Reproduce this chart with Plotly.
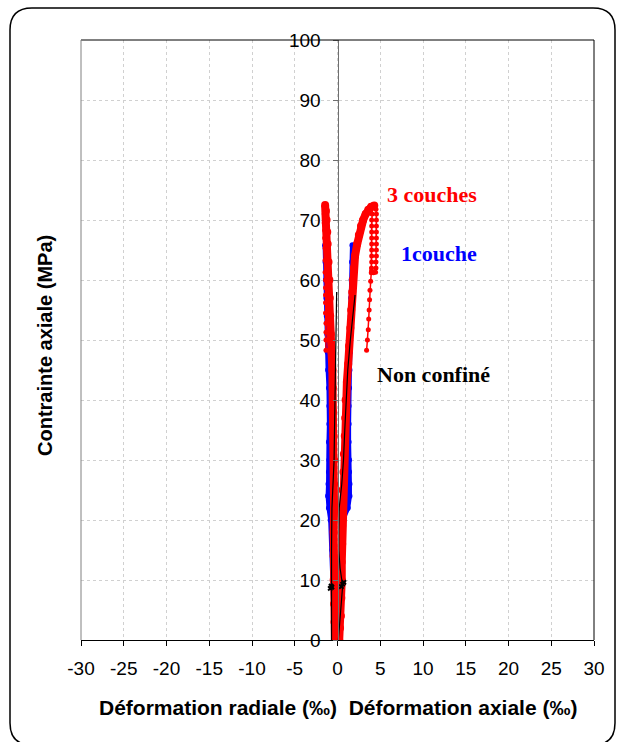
import plotly.graph_objects as go

# ---------------- data ----------------
x_tick_vals = [-30, -25, -20, -15, -10, -5, 0, 5, 10, 15, 20, 25, 30]
x_tick_labels = ["-30", "-25", "-20", "-15", "-10", "-5", "0", "5", "10", "15", "20", "25", "30"]
y_tick_vals = [0, 10, 20, 30, 40, 50, 60, 70, 80, 90, 100]

# 3 couches - axial branch (pre-peak)
red_ax_eps = [0.2, 0.3, 0.4, 0.45, 0.5, 0.5, 0.55, 0.55, 0.6, 0.6, 0.7, 0.75, 0.85, 0.9, 0.95,
              1.1, 1.25, 1.35, 1.5, 1.6, 1.72, 1.8, 1.92, 2.05, 2.3, 2.5, 2.75, 3.0, 3.3, 3.6, 3.95, 4.3]
red_ax_sig = [0, 2, 4, 7, 10, 13, 16, 19, 22, 25, 28, 31, 34, 37, 40,
              43, 46, 49, 52, 55, 58, 60, 62, 64, 66, 67.5, 69, 70, 71, 71.7, 72.2, 72.4]
# 3 couches - axial post-peak (two unloading paths)
red_axA_eps = [4.3, 4.1, 4.05, 4.0, 4.0, 4.0, 4.0, 4.0, 4.0, 4.0, 4.0, 3.98, 3.95, 3.88, 3.8,
               3.75, 3.7, 3.65, 3.6, 3.5, 3.4]
red_axA_sig = [72.4, 72.0, 71.0, 70.0, 69.0, 68.0, 67.0, 66.0, 65.0, 64.0, 63.0, 62.0, 61.2, 59.8, 58.3,
               56.7, 55.0, 53.5, 51.7, 50.0, 48.3]
red_axB_eps = [4.35, 4.5, 4.55, 4.55, 4.55, 4.55, 4.55, 4.55, 4.55, 4.55, 4.5, 4.5, 4.45, 4.2, 3.98]
red_axB_sig = [72.4, 71.8, 71.0, 70.0, 69.0, 68.0, 67.0, 66.0, 65.0, 64.0, 63.0, 62.0, 61.3, 61.2, 61.5]
# 3 couches - radial branch
red_rad_eps = [-0.3, -0.35, -0.4, -0.45, -0.45, -0.45, -0.4, -0.4, -0.4, -0.45, -0.5, -0.55, -0.6,
               -0.7, -0.78, -0.85, -0.9, -0.95, -1.05, -1.15, -1.2, -1.28, -1.35, -1.45]
red_rad_sig = [0, 3, 6, 10, 14, 18, 22, 26, 30, 34, 38, 42, 45,
               48, 51, 54, 57, 60, 63, 66, 68, 70, 71.5, 72.5]
red_radP_eps = [-1.5, -1.55, -1.55, -1.5, -1.5, -1.45, -1.45, -1.45, -1.4, -1.4, -1.4, -1.4,
                -1.4, -1.35, -1.35, -1.35, -1.35]
red_radP_sig = [72.5, 71.0, 69.5, 68.3, 67.0, 65.3, 63.3, 61.3, 60.0, 58.7, 57.5, 56.2,
                54.5, 52.8, 51.3, 50.0, 48.3]

# 1 couche
blue_ax_eps = [0.2, 0.3, 0.35, 0.4, 0.6, 1.2, 1.4, 1.4, 1.35, 1.35, 1.3, 1.3, 1.3, 1.35, 1.4,
               1.45, 1.5, 1.55, 1.6, 1.65, 1.7, 1.75]
blue_ax_sig = [0, 5, 10, 15, 20, 22, 24, 26, 28, 30, 33, 36, 39, 42, 45,
               48, 51, 54, 57, 60, 63, 65.8]
blue_rad_eps = [-0.3, -0.4, -0.5, -0.6, -0.8, -1.0, -1.1, -1.05, -1.0, -0.95, -1.0, -0.95, -0.95,
                -1.0, -1.1, -1.15, -1.2, -1.25, -1.3, -1.35, -1.4, -1.45]
blue_rad_sig = [0, 5, 10, 15, 20, 22, 24, 26, 28, 30, 33, 36, 39,
                42, 45, 48, 51, 54, 57, 60, 63, 65.8]

# Non confiné
black_rad_eps = [-0.7, -0.75, -0.7, -0.65, -0.5, -0.4, -0.35, -0.3, -0.2, -0.15, -0.1, -0.1]
black_rad_sig = [0, 9, 15, 22, 26, 30, 35, 40, 45, 50, 55, 58]
black_ax_eps = [0.1, 0.6, 0.3, 0.15, 0.15, 0.2, 0.5, 0.7, 0.85, 1.0, 1.2, 1.5, 1.9, 2.05]
black_ax_sig = [0, 9, 12, 15, 18, 22, 26, 30, 35, 40, 45, 50, 55, 57.5]
black_pts_eps = [-0.85, -0.75, -0.65, 0.45, 0.6, 0.75]
black_pts_sig = [8.6, 9.0, 8.8, 8.9, 9.3, 9.6]

labels = ["3 couches", "1couche", "Non confiné"]
label_eps = [11.05, 11.9, 11.2]
label_sig = [74.2, 64.5, 44.3]
label_colors = ["#ff0000", "#0000ff", "#000000"]

# ---------------- figure ----------------
W, H = 619, 742
ML, MR, MT, MB = 81, 25, 40, 102
PW, PH = W - ML - MR, H - MT - MB


def px(xp):
    return (xp - ML) / PW


def py(yp):
    return (H - MB - yp) / PH


RED = "#ff0000"
BLUE = "#0000ff"

fig = go.Figure()

# blue (1 couche)
for xs, ys in [(blue_rad_eps, blue_rad_sig), (blue_ax_eps, blue_ax_sig)]:
    fig.add_trace(go.Scatter(x=xs, y=ys, mode="lines+markers",
                             line=dict(color=BLUE, width=5),
                             marker=dict(color=BLUE, size=6, symbol="circle"),
                             showlegend=False, hoverinfo="skip"))

# red (3 couches) thick main branches
for xs, ys in [(red_rad_eps, red_rad_sig), (red_ax_eps, red_ax_sig)]:
    fig.add_trace(go.Scatter(x=xs, y=ys, mode="lines+markers",
                             line=dict(color=RED, width=8),
                             marker=dict(color=RED, size=8, symbol="circle"),
                             showlegend=False, hoverinfo="skip"))
# red post-peak thin
for xs, ys in [(red_radP_eps, red_radP_sig), (red_axA_eps, red_axA_sig), (red_axB_eps, red_axB_sig)]:
    fig.add_trace(go.Scatter(x=xs, y=ys, mode="lines+markers",
                             line=dict(color=RED, width=1.5),
                             marker=dict(color=RED, size=5, symbol="circle"),
                             showlegend=False, hoverinfo="skip"))

# black (Non confiné)
for xs, ys in [(black_rad_eps, black_rad_sig), (black_ax_eps, black_ax_sig)]:
    fig.add_trace(go.Scatter(x=xs, y=ys, mode="lines",
                             line=dict(color="#000000", width=1.2),
                             showlegend=False, hoverinfo="skip"))
fig.add_trace(go.Scatter(x=black_pts_eps, y=black_pts_sig, mode="markers",
                         marker=dict(color="#000000", size=5, symbol="x"),
                         showlegend=False, hoverinfo="skip"))

for t, xv, yv, c in zip(labels, label_eps, label_sig, label_colors):
    fig.add_annotation(x=xv, y=yv, text="<b>%s</b>" % t, showarrow=False,
                       font=dict(family="Liberation Serif", size=22, color=c),
                       xanchor="center", yanchor="middle")

# axis titles as annotations
fig.add_annotation(x=px(338), y=py(707), xref="paper", yref="paper",
                   text="<b>Déformation radiale (‰)  Déformation axiale (‰)</b>",
                   showarrow=False, xanchor="center", yanchor="middle",
                   font=dict(family="Liberation Sans", size=21, color="#000000"))
fig.add_annotation(x=px(45), y=py(346), xref="paper", yref="paper",
                   text="<b>Contrainte axiale (MPa)</b>", textangle=-90,
                   showarrow=False, xanchor="center", yanchor="middle",
                   font=dict(family="Liberation Sans", size=20, color="#000000"))

# plot box lines
fig.add_shape(type="line", xref="paper", yref="paper", x0=0, x1=1, y0=1, y1=1,
              line=dict(color="#000000", width=1))
fig.add_shape(type="line", xref="paper", yref="paper", x0=1, x1=1, y0=0, y1=1,
              line=dict(color="#000000", width=1))
fig.add_shape(type="line", xref="paper", yref="paper", x0=0, x1=0, y0=0, y1=1,
              line=dict(color="#808080", width=1))

# rounded outer border (bottom edge falls just outside the picture)
L, R, T, B, r = 10, 615, 8, 745, 22
path = ("M {a},{b} L {c},{b} Q {d},{b} {d},{e} L {d},{f} Q {d},{g} {c},{g} "
        "L {a},{g} Q {h},{g} {h},{f} L {h},{e} Q {h},{b} {a},{b} Z").format(
    a=px(L + r), b=py(T), c=px(R - r), d=px(R), e=py(T + r), f=py(B - r), g=py(B), h=px(L))
fig.add_shape(type="path", xref="paper", yref="paper", path=path,
              line=dict(color="#000000", width=1.5))

fig.update_layout(
    width=W, height=H,
    margin=dict(l=ML, r=MR, t=MT, b=MB),
    paper_bgcolor="#ffffff", plot_bgcolor="#ffffff",
    font=dict(family="Liberation Sans", size=19, color="#000000"),
    showlegend=False,
    xaxis=dict(range=[-30, 30], tickvals=x_tick_vals, ticktext=x_tick_labels,
               ticks="outside", ticklen=5, tickcolor="#000000", tickwidth=1,
               showline=True, linecolor="#000000", linewidth=1,
               showgrid=True, gridcolor="#d0d0d0", griddash="dot", gridwidth=1,
               zeroline=False, tickfont=dict(size=19), ticklabelstandoff=6),
    yaxis=dict(range=[0, 100], tickvals=y_tick_vals, anchor="free", position=0.5,
               ticks="outside", ticklen=5, tickcolor="#707070", tickwidth=1,
               showline=True, linecolor="#707070", linewidth=1,
               showgrid=True, gridcolor="#d0d0d0", griddash="dot", gridwidth=1,
               zeroline=False, tickfont=dict(size=19), ticklabelstandoff=8),
)

fig.write_html("out.html", config={"displayModeBar": False},
               post_script="document.body.style.margin='0px';")
